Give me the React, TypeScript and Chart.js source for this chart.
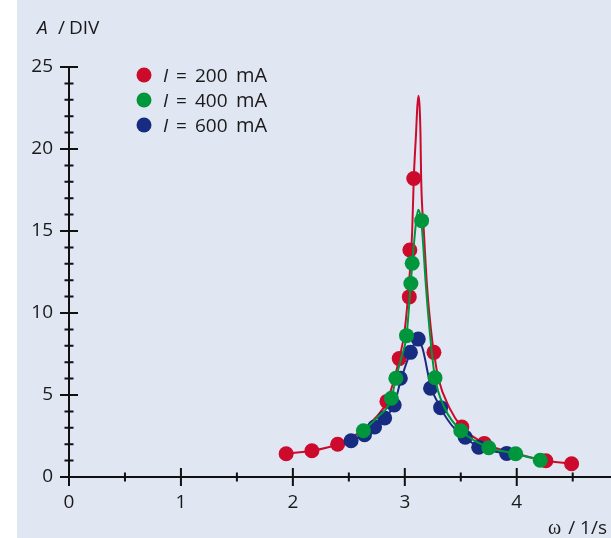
import React, { useEffect, useRef } from "react";
import { Chart, registerables } from "chart.js";

Chart.register(...registerables);

// ---- measured data points (ω in 1/s, A in DIV) ----
const omega200 = [1.94, 2.17, 2.40, 2.84, 2.95, 3.04, 3.045, 3.08, 3.26, 3.51, 3.71, 4.26, 4.49];
const amp200 = [1.42, 1.60, 2.00, 4.61, 7.22, 10.98, 13.84, 18.2, 7.6, 3.05, 2.05, 0.99, 0.81];

const omega400 = [2.63, 2.88, 2.92, 3.015, 3.054, 3.066, 3.15, 3.27, 3.50, 3.75, 3.99, 4.21];
const amp400 = [2.82, 4.8, 6.02, 8.62, 11.8, 13.03, 15.63, 6.05, 2.82, 1.78, 1.42, 1.02];

const omega600 = [2.52, 2.64, 2.73, 2.82, 2.905, 2.96, 3.05, 3.12, 3.23, 3.32, 3.54, 3.66, 3.91];
const amp600 = [2.21, 2.58, 3.05, 3.6, 4.39, 6.02, 7.6, 8.41, 5.41, 4.23, 2.42, 1.81, 1.44];

// ---- fitted resonance curves ----
const curve200X = [1.94, 2.17, 2.40, 2.60, 2.75, 2.84, 2.95, 3.00, 3.045, 3.066, 3.08, 3.10, 3.112, 3.122, 3.132, 3.14, 3.146, 3.17, 3.20, 3.245, 3.26, 3.30, 3.40, 3.51, 3.71, 4.00, 4.26, 4.49];
const curve200Y = [1.42, 1.60, 2.00, 2.75, 3.7, 4.6, 7.2, 9.0, 12.5, 15.0, 18.2, 20.9, 22.6, 23.25, 22.6, 20.9, 18.2, 15.0, 11.5, 8.3, 7.6, 6.0, 4.2, 3.05, 2.05, 1.42, 0.99, 0.81];

const curve400X = [2.63, 2.75, 2.88, 2.92, 2.97, 3.015, 3.05, 3.07, 3.10, 3.12, 3.14, 3.155, 3.19, 3.23, 3.27, 3.35, 3.50, 3.75, 3.99, 4.21];
const curve400Y = [2.82, 3.6, 4.8, 6.0, 7.3, 8.6, 11.5, 13.3, 15.5, 16.3, 15.9, 15.0, 11.5, 8.35, 6.05, 4.3, 2.85, 1.8, 1.42, 1.02];

const curve600X = [2.52, 2.64, 2.73, 2.82, 2.905, 2.96, 3.05, 3.10, 3.12, 3.16, 3.23, 3.32, 3.45, 3.54, 3.66, 3.91];
const curve600Y = [2.2, 2.6, 3.05, 3.6, 4.4, 5.8, 7.6, 8.3, 8.4, 7.8, 5.6, 4.2, 2.9, 2.42, 1.81, 1.44];

const seriesLabels = ["200 mA", "400 mA", "600 mA"];
const seriesColors = ["#cc0a2c", "#00963c", "#172c80"];

const xMajorTicks = [0, 1, 2, 3, 4];
const yMajorTicks = [0, 5, 10, 15, 20, 25];

const FONT = "'Open Sans', 'Noto Sans', sans-serif";
const FS = 19;
const TEXT = "#1a1a1a";

const toPts = (xs: number[], ys: number[]) => xs.map((x, i) => ({ x, y: ys[i] }));

export default function App() {
  const ref = useRef<HTMLCanvasElement | null>(null);

  useEffect(() => {
    if (!ref.current) return;

    const axesPlugin = {
      id: "crossAxes",
      beforeDatasetsDraw(chart: any) {
        const { ctx, scales } = chart;
        const xs = scales.x;
        const ys = scales.y;
        const x0 = xs.getPixelForValue(0);
        const y0 = ys.getPixelForValue(0);
        ctx.save();
        ctx.strokeStyle = "#111";
        ctx.lineWidth = 2;
        ctx.beginPath();
        ctx.moveTo(x0, y0);
        ctx.lineTo(chart.width, y0);
        ctx.moveTo(x0, y0);
        ctx.lineTo(x0, ys.getPixelForValue(25));
        for (let v = 0; v <= 25; v++) {
          const p = ys.getPixelForValue(v);
          const len = yMajorTicks.includes(v) ? 9 : 4.5;
          ctx.moveTo(x0 - len, p);
          ctx.lineTo(x0 + len, p);
        }
        for (let k = 0; k <= 9; k++) {
          const v = k * 0.5;
          const p = xs.getPixelForValue(v);
          const len = xMajorTicks.includes(v) ? 9 : 4.5;
          ctx.moveTo(p, y0 - len);
          ctx.lineTo(p, y0 + len);
        }
        ctx.stroke();
        ctx.restore();
      },
      afterDraw(chart: any) {
        const { ctx } = chart;
        ctx.save();
        ctx.fillStyle = TEXT;
        ctx.textBaseline = "alphabetic";
        // y title
        ctx.font = `italic ${FS}px ${FONT}`;
        ctx.textAlign = "left";
        ctx.fillText("A", 20, 34);
        ctx.font = `${FS}px ${FONT}`;
        ctx.fillText("/", 41, 34);
        ctx.fillText("DIV", 52, 34);
        // x title
        ctx.textAlign = "right";
        ctx.font = `${FS}px ${FONT}`;
        const rest = " / 1/s";
        ctx.fillText(rest, 590, 534);
        const wr = ctx.measureText(rest).width;
        ctx.font = `20px 'Liberation Serif', serif`;
        ctx.fillText("ω", 590 - wr - 2, 534);
        // legend
        seriesLabels.forEach((lab, i) => {
          const cy = 75 + i * 25;
          ctx.beginPath();
          ctx.fillStyle = seriesColors[i];
          ctx.arc(127, cy, 7.5, 0, Math.PI * 2);
          ctx.fill();
          ctx.fillStyle = TEXT;
          ctx.textAlign = "left";
          ctx.font = `italic ${FS}px ${FONT}`;
          ctx.fillText("I", 146, cy + 7);
          ctx.font = `${FS}px ${FONT}`;
          ctx.fillText("=", 159, cy + 7);
          const parts = lab.split(" ");
          ctx.fillText(parts[0], 178, cy + 7);
          ctx.font = `20px ${FONT}`;
          ctx.fillText(parts[1], 219, cy + 7);
        });
        ctx.restore();
      },
    };

    const lineDs = (xs: number[], ys: number[], c: string, order: number) => ({
      data: toPts(xs, ys),
      showLine: true,
      borderColor: c,
      borderWidth: 2,
      pointRadius: 0,
      pointHoverRadius: 0,
      cubicInterpolationMode: "monotone" as const,
      fill: false,
      order,
    });
    const ptDs = (xs: number[], ys: number[], c: string, order: number) => ({
      data: toPts(xs, ys),
      showLine: false,
      backgroundColor: c,
      borderColor: c,
      borderWidth: 0,
      pointRadius: 7.5,
      pointHoverRadius: 7.5,
      order,
    });

    const chart = new Chart(ref.current, {
      type: "scatter",
      data: {
        datasets: [
          ptDs(omega400, amp400, seriesColors[1], 0),
          lineDs(curve400X, curve400Y, seriesColors[1], 1),
          ptDs(omega600, amp600, seriesColors[2], 2),
          lineDs(curve600X, curve600Y, seriesColors[2], 3),
          ptDs(omega200, amp200, seriesColors[0], 4),
          lineDs(curve200X, curve200Y, seriesColors[0], 5),
        ] as any,
      },
      options: {
        animation: false,
        responsive: false,
        maintainAspectRatio: false,
        layout: { padding: { top: 67, left: 0, right: 0, bottom: 0 } },
        plugins: {
          legend: { display: false },
          tooltip: { enabled: false },
          title: { display: false },
        },
        scales: {
          x: {
            type: "linear",
            min: 0,
            max: 4.775,
            grid: { display: false, drawTicks: false },
            border: { display: false },
            ticks: {
              stepSize: 0.5,
              includeBounds: false,
              padding: 14,
              color: TEXT,
              font: { family: FONT, size: FS },
              maxRotation: 0,
              autoSkip: false,
              callback: (v: any) => (xMajorTicks.includes(Number(v)) ? String(v) : ""),
            },
            afterFit: (s: any) => {
              s.height = 61;
            },
          },
          y: {
            type: "linear",
            min: 0,
            max: 25,
            grid: { display: false, drawTicks: false },
            border: { display: false },
            ticks: {
              stepSize: 1,
              padding: 16,
              color: TEXT,
              font: { family: FONT, size: FS },
              autoSkip: false,
              callback: (v: any) => (yMajorTicks.includes(Number(v)) ? String(v) : ""),
            },
            afterFit: (s: any) => {
              s.width = 52;
            },
          },
        },
      },
      plugins: [axesPlugin],
    });

    return () => chart.destroy();
  }, []);

  return (
    <div style={{ position: "absolute", left: 17, top: 0, width: 594, height: 538, background: "#e0e6f2" }}>
      <canvas ref={ref} width={594} height={538} style={{ display: "block", width: 594, height: 538 }} />
    </div>
  );
}
